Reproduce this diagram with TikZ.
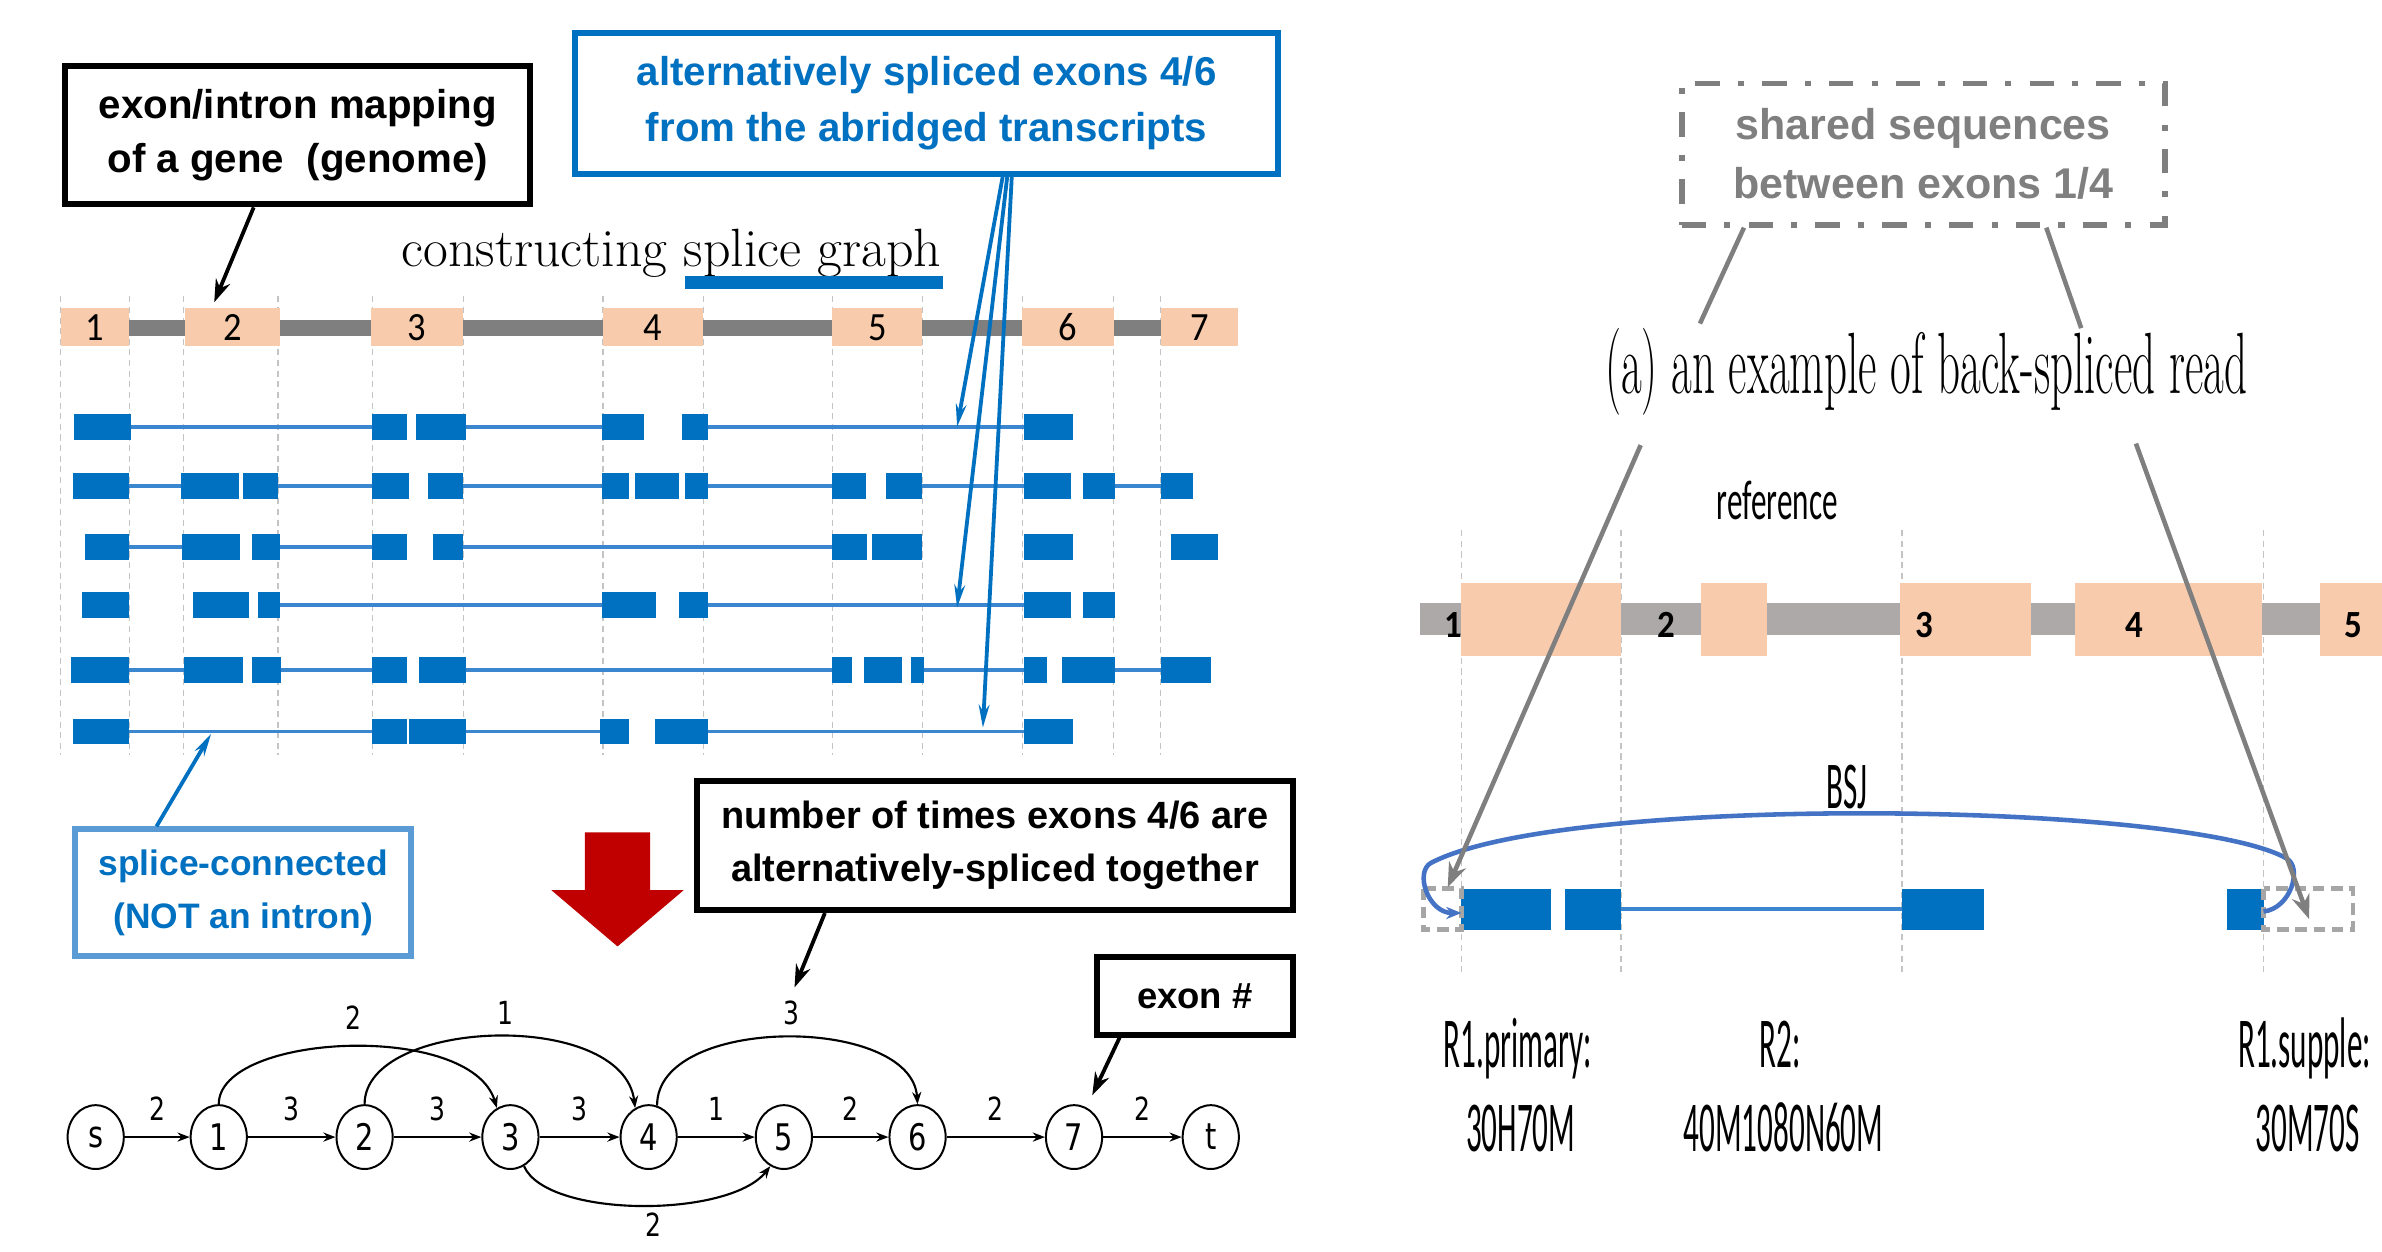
\documentclass[tikz,border=0pt]{standalone}
\usepackage{fontspec}
\usepackage{graphicx}
\newfontfamily\arialf{Liberation Sans}
\newfontfamily\calf{Carlito}
\newfontfamily\dejaf{DejaVu Sans}
\usetikzlibrary{arrows.meta,shapes.geometric,calc}
\definecolor{peach}{HTML}{F8CBAD}
\definecolor{tblue}{HTML}{0070C0}
\definecolor{lblue}{HTML}{5B9BD5}
\definecolor{lineblue}{HTML}{3A86CF}
\definecolor{darkred}{HTML}{C00000}
\definecolor{bargray}{HTML}{7F7F7F}
\definecolor{rbargray}{HTML}{ADA9A9}
\definecolor{bsjblue}{HTML}{4472C4}
\definecolor{vgray}{HTML}{C4C4C4}
\definecolor{dgray}{HTML}{A6A6A6}
\newcommand\ystr[2]{\scalebox{1}[#1]{#2}}
\newcommand\trow[3]{%
  \foreach \a/\b in {#3} \draw[tline] (\a,#1) -- (\b,#1);
  \foreach \a/\b in {#2} \fill[tblue] (\a,#1-8.5) rectangle (\b,#1+8.5);}
\begin{document}
\begin{tikzpicture}[x=1pt,y=-1pt,
  callbox/.style={draw=black, line width=4pt, fill=white, align=center, inner sep=0pt,
    font=\arialf\bfseries\fontsize{26.5}{36}\selectfont},
  exonL/.style={fill=peach, minimum height=25pt, inner sep=0pt, font=\calf\fontsize{24}{24}\selectfont},
  exonR/.style={fill=peach, minimum height=48pt, inner sep=0pt},
  rlab/.style={inner sep=0pt, font=\calf\bfseries\fontsize{23}{23}\selectfont},
  vdash/.style={draw=vgray, line width=0.8pt, dash pattern=on 4pt off 3pt},
  tline/.style={draw=lineblue, line width=2.5pt},
  barrow/.style={draw=black, line width=2.5pt, -{Stealth[length=15pt,width=10pt]}},
  bluearrow/.style={draw=tblue, line width=2.5pt, -{Stealth[length=15pt,width=7pt]}},
  gnode/.style={ellipse, draw, line width=1.3pt, minimum width=37pt, minimum height=42pt, inner sep=0pt,
    font=\dejaf\fontsize{19}{19}\selectfont},
  gedge/.style={line width=1.4pt, -{Stealth[length=8pt,width=6pt]}},
  elabel/.style={inner sep=0pt, font=\dejaf\fontsize{16.5}{16.5}\selectfont},
  gline/.style={draw=bargray, line width=3pt},
  garrow/.style={draw=bargray, line width=3pt, -{Stealth[length=16pt,width=12pt]}},
  rdash/.style={draw=dgray, line width=3pt, dash pattern=on 7.5pt off 4.5pt},
  rtext/.style={inner sep=0pt, anchor=base, font=\calf\fontsize{20.5}{20.5}\selectfont}
]
\useasboundingbox (0,0) rectangle (1568,824);
\fill[white] (0,0) rectangle (1568,824);

% ---------------- left panel: gene ----------------
\foreach \x in {40,85,121,183,245,305,397,463,548,607,673,733,764}
  \draw[vdash] (\x,195) -- (\x,497);
\fill[bargray] (40,210.5) rectangle (815,221);
\node[exonL, minimum width=45pt] (e1) at (62.5,215.5) {\ystr{1.1}{1}};
\node[exonL, minimum width=62pt] (e2) at (153,215.5) {\ystr{1.1}{2}};
\node[exonL, minimum width=61pt] (e3) at (274.5,215.5) {\ystr{1.1}{3}};
\node[exonL, minimum width=66pt] (e4) at (430,215.5) {\ystr{1.1}{4}};
\node[exonL, minimum width=59pt] (e5) at (577.5,215.5) {\ystr{1.1}{5}};
\node[exonL, minimum width=60pt] (e6) at (703,215.5) {\ystr{1.1}{6}};
\node[exonL, minimum width=51pt] (e7) at (789.5,215.5) {\ystr{1.1}{7}};

% transcripts
\trow{281}{49/86,245/268,274/307,396/424,449/466,674/706}{86/245,307/396,466/674}
\trow{320}{48/85,119/157,160/183,245/269,282/305,396/414,418/447,451/466,548/570,583/607,674/705,713/734,764/785}{85/119,183/245,305/396,466/548,607/674,734/764}
\trow{360}{56/85,120/158,166/184,245/268,285/305,548/571,574/607,674/706,771/802}{85/120,184/245,305/548}
\trow{398.5}{54/85,127/164,170/184,396/432,447/466,674/705,713/734}{184/396,466/674}
\trow{441}{47/85,121/160,166/185,245/268,276/307,548/561,569/594,600/608,674/689,699/734,764/797}{85/121,185/245,307/548,608/674,734/764}
\trow{481.5}{48/85,245/268,269/307,395/414,431/466,674/706}{85/245,307/395,466/674}

% title
\node[anchor=base, inner sep=0pt, font=\fontsize{35.5}{36}\selectfont] (ctitle) at (442,175.5) {constructing splice graph};
\fill[tblue] (451,182) rectangle (621,190);

% callout boxes
\node[callbox, minimum width=306pt, minimum height=91pt] (mapbox) at (196,89)
  {exon/intron mapping\\of a gene~ (genome)};
\node[callbox, draw=tblue, text=tblue, minimum width=463pt, minimum height=93pt, font=\arialf\bfseries\fontsize{26.5}{37}\selectfont] (altbox) at (610,68)
  {alternatively spliced exons 4/6\\from the abridged transcripts};
\node[callbox, draw=lblue, text=tblue, minimum width=221pt, minimum height=83pt, font=\arialf\bfseries\fontsize{23.3}{35}\selectfont] (splicebox) at (160,587.5)
  {splice-connected\\(NOT an intron)};
\node[callbox, minimum width=392pt, minimum height=85pt, font=\arialf\bfseries\fontsize{25}{35}\selectfont] (numbox) at (655,556.5)
  {number of times exons 4/6 are\\alternatively-spliced together};
\node[callbox, minimum width=129pt, minimum height=51pt, font=\arialf\bfseries\fontsize{24}{24}\selectfont] (exbox) at (786.5,655.5) {exon \#};

% callout arrows
\coordinate (mapend) at (141,199);
\draw[barrow] ($(mapbox.south)+(-29,0)$) -- (mapend);
\coordinate (altend1) at (630,281);
\coordinate (altend2) at (630,400);
\coordinate (altend3) at (647,479);
\draw[bluearrow] ($(altbox.south)+(50,0)$) -- (altend1);
\draw[bluearrow] ($(altbox.south)+(53,0)$) -- (altend2);
\draw[bluearrow] ($(altbox.south)+(56,0)$) -- (altend3);
\coordinate (spliceend) at (139,483);
\draw[bluearrow] ($(splicebox.north)+(-57,0)$) -- (spliceend);
\coordinate (numend) at (523,650);
\draw[barrow] ($(numbox.south)+(-112,0)$) -- (numend);
\coordinate (exend) at (719,721);
\draw[barrow] ($(exbox.south)+(-49.5,0)$) -- (exend);

% red arrow
\fill[darkred] (385,548) -- (428,548) -- (428,586) -- (450,586) -- (406.5,623) -- (363,586) -- (385,586) -- cycle;

% ---------------- splice graph ----------------
\node[gnode] (s) at (63,748.5) {\ystr{1.27}{s}};
\node[gnode] (n1) at (144,748.5) {\ystr{1.27}{1}};
\node[gnode] (n2) at (240,748.5) {\ystr{1.27}{2}};
\node[gnode] (n3) at (336,748.5) {\ystr{1.27}{3}};
\node[gnode] (n4) at (427,748.5) {\ystr{1.27}{4}};
\node[gnode] (n5) at (516,748.5) {\ystr{1.27}{5}};
\node[gnode] (n6) at (604,748.5) {\ystr{1.27}{6}};
\node[gnode] (n7) at (707,748.5) {\ystr{1.27}{7}};
\node[gnode] (t) at (797,748.5) {\ystr{1.27}{t}};

\draw[gedge] (s) -- node[elabel, above=10pt] {\ystr{1.27}{2}} (n1);
\draw[gedge] (n1) -- node[elabel, above=10pt] {\ystr{1.27}{3}} (n2);
\draw[gedge] (n2) -- node[elabel, above=10pt] {\ystr{1.27}{3}} (n3);
\draw[gedge] (n3) -- node[elabel, above=10pt] {\ystr{1.27}{3}} (n4);
\draw[gedge] (n4) -- node[elabel, above=10pt] {\ystr{1.27}{1}} (n5);
\draw[gedge] (n5) -- node[elabel, above=10pt] {\ystr{1.27}{2}} (n6);
\draw[gedge] (n6) -- node[elabel, above=10pt] {\ystr{1.27}{2}} (n7);
\draw[gedge] (n7) -- node[elabel, above=10pt] {\ystr{1.27}{2}} (t);

\draw[gedge] (n1.north) .. controls (144,680) and (310,672) .. (n3.115);
\draw[gedge] (n2.north) .. controls (240,670) and (410,664) .. (n4.115);
\draw[gedge] (n4.75) .. controls (432,668) and (600,668) .. (n6.north);
\draw[gedge] (n3.-65) .. controls (360,802) and (480,802) .. (n5.-115);
\node[elabel] (l13) at (233,670) {\ystr{1.27}{2}};
\node[elabel] (l24) at (333,667) {\ystr{1.27}{1}};
\node[elabel] (l46) at (521,667) {\ystr{1.27}{3}};
\node[elabel] (l35) at (430,806) {\ystr{1.27}{2}};

% ---------------- right panel ----------------
\node[draw=bargray, line width=3.7pt, dash pattern=on 16pt off 12pt on 4pt off 12pt, align=center, inner sep=0pt,
  minimum width=318pt, minimum height=93pt, text=bargray,
  font=\arialf\bfseries\fontsize{28.3}{39}\selectfont] (sharedbox) at (1266,101.5)
  {shared sequences\\between exons 1/4};
\coordinate (sb1e) at (1119,213);
\coordinate (sb2e) at (1370,216);
\draw[gline] ($(sharedbox.south)+(-118,0)$) -- (sb1e);
\draw[gline] ($(sharedbox.south)+(81,0)$) -- (sb2e);

\node[anchor=base, inner sep=0pt, font=\fontsize{29.7}{30}\selectfont] (atitle) at (1268,258.7)
  {\ystr{1.93}{(a) an example of back-spliced read}};

\foreach \x in {962,1067,1252,1490}
  \draw[vdash] (\x,349) -- (\x,640);
\fill[rbargray] (935,397) rectangle (1568,418);
\node[exonR, minimum width=105pt] (r1) at (1014.5,408) {};
\node[exonR, minimum width=43pt] (r2) at (1141.5,408) {};
\node[exonR, minimum width=86pt] (r3) at (1294,408) {};
\node[exonR, minimum width=123pt] (r4) at (1427.5,408) {};
\node[exonR, minimum width=41pt] (r5) at (1547.5,408) {};
\node[rlab] (rl1) at (957,411.5) {\ystr{1.1}{1}};
\node[rlab] (rl2) at (1097,411.5) {\ystr{1.1}{2}};
\node[rlab] (rl3) at (1267,411.5) {\ystr{1.1}{3}};
\node[rlab] (rl4) at (1405,411.5) {\ystr{1.1}{4}};
\node[rlab] (rl5) at (1549,411.5) {\ystr{1.1}{5}};

\node[rtext] (reftxt) at (1170,342) {\ystr{1.8}{reference}};

% read
\draw[tline, line width=3pt] (1067,598.5) -- (1252,598.5);
\fill[tblue] (962,585) rectangle (1021,612);
\fill[tblue] (1030,585) rectangle (1067,612);
\fill[tblue] (1252,585) rectangle (1306,612);
\fill[tblue] (1466,585) rectangle (1490,612);
\draw[rdash] (937,585) rectangle (962,612);
\draw[rdash] (1490,585) rectangle (1549,612);

% BSJ
\draw[draw=bsjblue, line width=3pt, -{Stealth[length=10pt,width=8pt]}]
  (1490,600) .. controls (1508,598) and (1516,571) .. (1505,565)
  .. controls (1440,528) and (1030,522) .. (942,568)
  .. controls (931,574) and (940,601) .. (962,601);
\node[rtext] (bsj) at (1216,532) {\ystr{2.15}{BSJ}};

% gray arrows
\coordinate (ga1s) at (1080,293);
\coordinate (ga1e) at (953,584);
\coordinate (ga2s) at (1406,292);
\coordinate (ga2e) at (1520,605);
\draw[garrow] (ga1s) -- (ga1e);
\draw[garrow] (ga2s) -- (ga2e);

% labels
\node[rtext] (r1p) at (999,703) {\ystr{2.3}{R1.primary:}};
\node[rtext] (r1pc) at (1001,758) {\ystr{2.3}{30H70M}};
\node[rtext] (r2) at (1172,703) {\ystr{2.3}{R2:}};
\node[rtext] (r2c) at (1174,758) {\ystr{2.3}{40M1080N60M}};
\node[rtext] (r1s) at (1517,703) {\ystr{2.3}{R1.supple:}};
\node[rtext] (r1sc) at (1519,758) {\ystr{2.3}{30M70S}};
\end{tikzpicture}
\end{document}
